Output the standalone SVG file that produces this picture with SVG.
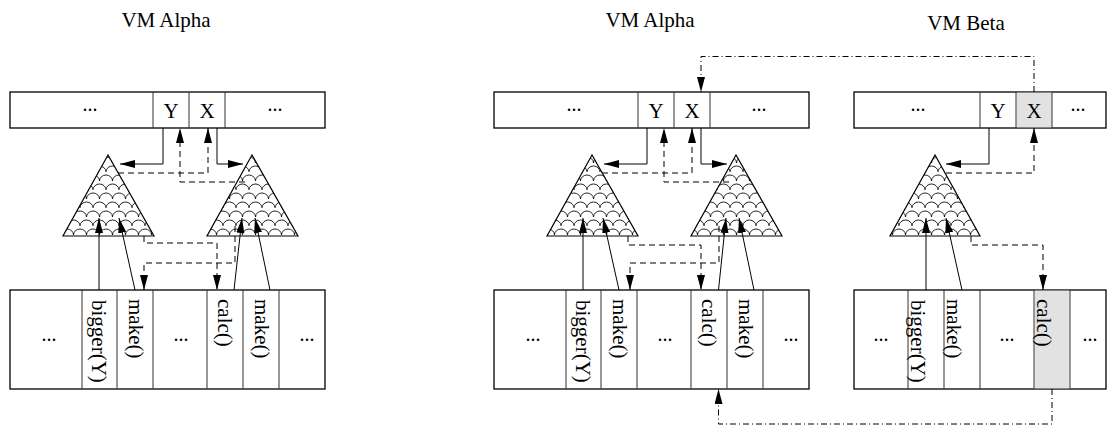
<svg xmlns="http://www.w3.org/2000/svg" width="1110" height="428" viewBox="0 0 1110 428">
<style>
text{font-family:"Liberation Serif","Times New Roman",serif;fill:#000}
.title{font-size:21px;text-anchor:middle}
.cell{font-size:21px;text-anchor:middle}
.dots{font-size:20px;text-anchor:middle}
.rot{font-size:21px}
.bar{fill:#fff;stroke:#000;stroke-width:1.3}
.div{stroke:#333;stroke-width:1;fill:none}
.gray{fill:#e2e2e2;stroke:none}
.tri{fill:url(#scales);stroke:#000;stroke-width:1.2}
.s{fill:none;stroke:#000;stroke-width:1;marker-end:url(#ah)}
.d{fill:none;stroke:#000;stroke-width:1;stroke-dasharray:6 4;marker-end:url(#ah)}
.dd{fill:none;stroke:#000;stroke-width:1;stroke-dasharray:6 3 1 3;marker-end:url(#ah)}
</style>
<defs>
<marker id="ah" markerUnits="userSpaceOnUse" markerWidth="16" markerHeight="9" refX="15" refY="4" orient="auto">
<path d="M0,0 L15,4 L0,8 Z" fill="#000"/>
</marker>
<pattern id="scales" patternUnits="userSpaceOnUse" x="2" y="1" width="13" height="18">
<rect width="13" height="18" fill="#fff"/>
<path d="M0,9 A6.5,6 0 0 1 13,9 M-6.5,18 A6.5,6 0 0 1 6.5,18 M6.5,18 A6.5,6 0 0 1 19.5,18 M-6.5,0 A6.5,6 0 0 1 6.5,0 M6.5,0 A6.5,6 0 0 1 19.5,0" fill="none" stroke="#000" stroke-width="0.85"/>
</pattern>
</defs>
<rect width="1110" height="428" fill="#fff"/>

<g id="titles">
<text class="title" x="166" y="27">VM Alpha</text>
<text class="title" x="650" y="27">VM Alpha</text>
<text class="title" x="966" y="29.5">VM Beta</text>
</g>

<!-- Left panel -->
<g id="alpha1-heap">
<rect class="bar" x="10" y="92" width="315" height="36"/>
<path class="div" d="M153,92V128M189,92V128M225,92V128"/>
<text class="dots" x="90" y="111">...</text>
<text class="cell" x="171" y="118">Y</text>
<text class="cell" x="207" y="118">X</text>
<text class="dots" x="275" y="111">...</text>
</g>
<g id="alpha1-tree1"><polygon class="tri" points="108,155 63,236 154,236"/></g>
<g id="alpha1-tree2"><polygon class="tri" points="252,155 207,236 298,236"/></g>
<g id="alpha1-code">
<rect class="bar" x="10" y="290" width="315" height="99"/>
<path class="div" d="M82,290V389M117,290V389M153,290V389M207,290V389M243,290V389M279,290V389"/>
<text class="dots" x="49" y="341">...</text>
<text class="rot" transform="translate(92,300) rotate(90)">bigger(Y)</text>
<text class="rot" transform="translate(128.5,299) rotate(90)">make()</text>
<text class="dots" x="181" y="341">...</text>
<text class="rot" transform="translate(217.5,299) rotate(90)">calc()</text>
<text class="rot" transform="translate(254.5,299) rotate(90)">make()</text>
<text class="dots" x="307" y="341">...</text>
</g>

<!-- Middle panel -->
<g id="alpha2-heap">
<rect class="bar" x="494" y="92" width="315" height="36"/>
<path class="div" d="M638,92V128M674,92V128M710,92V128"/>
<text class="dots" x="574" y="111">...</text>
<text class="cell" x="656" y="118">Y</text>
<text class="cell" x="692" y="118">X</text>
<text class="dots" x="759" y="111">...</text>
</g>
<g id="alpha2-tree1"><polygon class="tri" points="592,155 547,236 638,236"/></g>
<g id="alpha2-tree2"><polygon class="tri" points="736,155 691,236 782,236"/></g>
<g id="alpha2-code">
<rect class="bar" x="494" y="290" width="315" height="99"/>
<path class="div" d="M566,290V389M601,290V389M637,290V389M691,290V389M727,290V389M763,290V389"/>
<text class="dots" x="533" y="341">...</text>
<text class="rot" transform="translate(576,300) rotate(90)">bigger(Y)</text>
<text class="rot" transform="translate(612.5,299) rotate(90)">make()</text>
<text class="dots" x="665" y="341">...</text>
<text class="rot" transform="translate(701.5,299) rotate(90)">calc()</text>
<text class="rot" transform="translate(738.5,299) rotate(90)">make()</text>
<text class="dots" x="791" y="341">...</text>
</g>

<!-- Right panel -->
<g id="beta-heap">
<rect class="bar" x="854" y="92" width="252" height="36"/>
<rect class="gray" x="1016.5" y="92.7" width="35.5" height="34.6"/>
<path class="div" d="M980,92V128M1016,92V128M1052,92V128"/>
<text class="dots" x="918" y="111">...</text>
<text class="cell" x="998" y="118">Y</text>
<text class="cell" x="1034" y="118">X</text>
<text class="dots" x="1078" y="111">...</text>
</g>
<g id="beta-tree"><polygon class="tri" points="935,155 890,236 980,236"/></g>
<g id="beta-code">
<rect class="bar" x="854" y="290" width="252" height="99"/>
<rect class="gray" x="1034.5" y="290.7" width="35" height="97.6"/>
<path class="div" d="M908,290V389M944,290V389M980,290V389M1034,290V389M1070,290V389"/>
<text class="dots" x="881" y="341">...</text>
<text class="rot" transform="translate(910.5,300) rotate(90)">bigger(Y)</text>
<text class="rot" transform="translate(947,299) rotate(90)">make()</text>
<text class="dots" x="1007" y="341">...</text>
<text class="rot" transform="translate(1037,299) rotate(90)">calc()</text>
<text class="dots" x="1090" y="341">...</text>
</g>

<g id="connectors">
<!-- left panel -->
<path class="s" d="M163,128V164H120"/>
<path class="s" d="M217,128V164H243"/>
<path class="d" d="M118,173H208V128"/>
<path class="d" d="M245,182H180V128"/>
<path class="s" d="M99,290V218"/>
<path class="s" d="M135,290L119,218"/>
<path class="s" d="M234,290L242,218"/>
<path class="s" d="M270,290L255,218"/>
<path class="d" d="M144,236V243H217V290"/>
<path class="d" d="M235,226V263H144V290"/>
<!-- middle panel -->
<path class="s" d="M647,128V164H604"/>
<path class="s" d="M701,128V164H727"/>
<path class="d" d="M602,173H692V128"/>
<path class="d" d="M729,182H664V128"/>
<path class="s" d="M583,290V218"/>
<path class="s" d="M619,290L603,218"/>
<path class="s" d="M718.5,290L726,218"/>
<path class="s" d="M754,290L739,218"/>
<path class="d" d="M628,236V245H701V290"/>
<path class="d" d="M719,226V263H630V290"/>
<!-- right panel -->
<path class="s" d="M989,128V164H946"/>
<path class="d" d="M946,173H1034V128"/>
<path class="s" d="M926,290V218"/>
<path class="s" d="M962,290L946,218"/>
<path class="d" d="M971,236V245H1043V290"/>
<!-- cross-VM -->
<path class="dd" d="M1034,92V56.5H701V92"/>
<path class="dd" d="M1052,389V424H718.5V389"/>
</g>
</svg>
